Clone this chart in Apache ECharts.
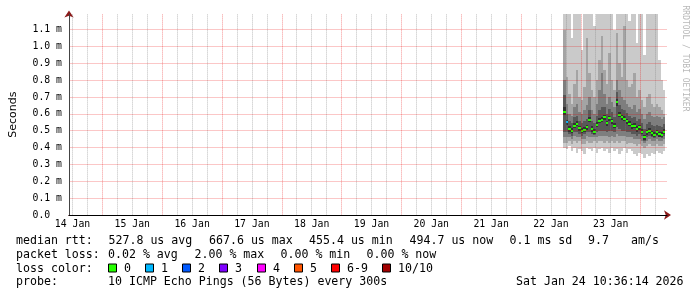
<!DOCTYPE html>
<html><head><meta charset="utf-8">
<script src="https://cdn.jsdelivr.net/npm/echarts@6/dist/echarts.min.js"></script>
<style>html,body{margin:0;padding:0;background:#fff}#c{width:697px;height:297px}</style>
</head><body><div id="c"></div>
<script>
// time axis in hours since 14 Jan 00:00; graph spans 14 Jan 10:36:14 .. 24 Jan 10:36:14
const X_MIN = 10.6039, X_MAX = 250.6039;
const Y_MAX = 1.19; // ms
const X_LABELS = ['14 Jan','15 Jan','16 Jan','17 Jan','18 Jan','19 Jan','20 Jan','21 Jan','22 Jan','23 Jan'];
const X_LABEL_HOURS = [12,36,60,84,108,132,156,180,204,228];
const MAJOR_HOURS = [24,48,72,96,120,144,168,192,216,240];
const MINOR_HOURS = [12,18,30,36,42,54,60,66,78,84,90,102,108,114,126,132,138,150,156,162,174,180,186,198,204,210,222,228,234,246];
const Y_TICKS = [0,0.1,0.2,0.3,0.4,0.5,0.6,0.7,0.8,0.9,1.0,1.1];

// hourly samples (end hour of each 1h step)
const HOURS = [210,211,212,213,214,215,216,217,218,219,220,221,222,223,224,225,226,227,228,229,230,231,232,233,234,235,236,237,238,239,240,241,242,243,244,245,246,247,248,249,250];
// sorted ping values (ms), ping1 (fastest) .. ping10 (slowest)
const P1 = [0.40,0.39,0.41,0.38,0.40,0.37,0.39,0.38,0.36,0.40,0.39,0.38,0.40,0.37,0.39,0.40,0.38,0.39,0.37,0.40,0.38,0.39,0.36,0.38,0.40,0.37,0.39,0.38,0.36,0.35,0.37,0.36,0.34,0.36,0.35,0.37,0.36,0.38,0.37,0.36,0.38];
const P2 = [0.43,0.43,0.44,0.42,0.44,0.43,0.44,0.42,0.42,0.44,0.43,0.43,0.44,0.43,0.44,0.44,0.43,0.44,0.43,0.44,0.43,0.44,0.43,0.44,0.44,0.42,0.43,0.43,0.42,0.41,0.42,0.41,0.40,0.41,0.42,0.41,0.41,0.42,0.41,0.41,0.42];
const P3 = [0.46,0.46,0.46,0.45,0.47,0.46,0.46,0.45,0.45,0.47,0.46,0.46,0.46,0.46,0.47,0.47,0.47,0.47,0.46,0.47,0.46,0.48,0.47,0.47,0.47,0.46,0.46,0.46,0.45,0.45,0.45,0.44,0.43,0.44,0.45,0.44,0.44,0.45,0.44,0.44,0.45];
const P4 = [0.49,0.49,0.48,0.47,0.49,0.49,0.48,0.47,0.48,0.49,0.49,0.48,0.475,0.49,0.50,0.50,0.50,0.49,0.50,0.50,0.49,0.52,0.51,0.50,0.50,0.49,0.49,0.48,0.48,0.47,0.48,0.47,0.44,0.465,0.47,0.46,0.455,0.47,0.46,0.455,0.47];
const P5 = [0.595,0.535,0.495,0.485,0.515,0.525,0.50,0.485,0.49,0.505,0.55,0.495,0.48,0.52,0.545,0.55,0.565,0.53,0.56,0.54,0.515,0.645,0.58,0.565,0.555,0.54,0.525,0.51,0.515,0.495,0.505,0.48,0.445,0.475,0.485,0.47,0.46,0.475,0.465,0.46,0.48];
const P6 = [0.64,0.565,0.525,0.515,0.545,0.555,0.53,0.515,0.52,0.535,0.58,0.525,0.51,0.55,0.575,0.58,0.595,0.56,0.59,0.57,0.545,0.69,0.61,0.595,0.585,0.57,0.555,0.54,0.545,0.525,0.535,0.51,0.475,0.505,0.515,0.50,0.49,0.505,0.495,0.49,0.51];
const P7 = [0.71,0.60,0.555,0.545,0.58,0.59,0.56,0.545,0.555,0.57,0.62,0.56,0.545,0.59,0.62,0.64,0.64,0.60,0.63,0.61,0.58,0.73,0.65,0.63,0.62,0.605,0.59,0.575,0.58,0.555,0.57,0.545,0.51,0.54,0.55,0.535,0.525,0.535,0.525,0.52,0.54];
const P8 = [0.80,0.66,0.60,0.59,0.64,0.66,0.61,0.60,0.62,0.65,0.70,0.62,0.60,0.66,0.74,0.84,0.72,0.66,0.70,0.67,0.64,0.80,0.74,0.70,0.68,0.66,0.64,0.63,0.65,0.61,0.63,0.60,0.57,0.60,0.61,0.59,0.58,0.59,0.58,0.57,0.58];
const P9 = [1.10,0.82,0.72,0.66,0.78,0.86,0.70,0.68,0.76,1.05,0.84,0.74,0.70,0.80,0.92,1.06,0.86,0.78,0.96,0.80,0.74,1.08,0.90,0.82,1.12,0.80,0.76,0.78,0.84,0.70,0.74,0.68,0.64,0.70,0.72,0.66,0.64,0.66,0.64,0.62,0.60];
const P10 = [1.25,1.25,1.25,1.05,1.25,1.25,1.25,0.98,1.25,1.25,1.25,1.25,1.12,1.25,1.25,1.25,1.25,1.25,1.25,1.25,1.10,1.25,1.25,1.25,1.25,1.25,1.15,1.25,1.25,1.02,1.25,1.25,0.95,1.25,1.25,1.25,1.25,1.25,0.92,0.80,0.74];
const MEDIAN = [0.61,0.55,0.51,0.50,0.53,0.54,0.515,0.50,0.505,0.52,0.565,0.51,0.495,0.535,0.56,0.565,0.58,0.545,0.575,0.555,0.53,0.668,0.595,0.58,0.57,0.555,0.54,0.525,0.53,0.51,0.52,0.495,0.46,0.49,0.50,0.485,0.475,0.49,0.48,0.475,0.495];
const LOSS = [0,1,0,0,0,0,0,0,0,0,0,0,0,0,0,0,0,0,0,0,0,0,0,0,0,0,0,0,0,0,0,0,0,0,0,0,0,0,0,0,0];

const SMOKE_COLORS = ['#cacaca','#a4a4a4','#7e7e7e','#585858','#323232'];
const LOSS_LABELS = ['0','1','2','3','4','5','6-9','10/10'];
const LOSS_COLORS = ['#26ff00','#00b8ff','#0059ff','#7e00ff','#ff00ff','#ff5500','#ff0000','#a10000'];

const RTT_STATS = ['median rtt:','527.8 us avg','667.6 us max','455.4 us min','494.7 us now','0.1 ms sd','9.7','am/s'];
const LOSS_STATS = ['packet loss:','0.02 % avg','2.00 % max','0.00 % min','0.00 % now'];
const PROBE = ['probe:','10 ICMP Echo Pings (56 Bytes) every 300s','Sat Jan 24 10:36:14 2026'];

const rows = HOURS.map((h, i) => [h, P1[i], P2[i], P3[i], P4[i], P5[i], P6[i], P7[i], P8[i], P9[i], P10[i], MEDIAN[i], LOSS[i]]);

const MONO = 'DejaVu Sans Mono';
const LEG_FS = 11.6;
function txt(x, y, s) {
  return {type:'text', x:x, y:y, style:{text:s, font: LEG_FS + 'px "' + MONO + '"', fill:'#000', textAlign:'left', textVerticalAlign:'middle'}};
}
const graphics = [];
const R1 = 241, R2 = 255, R3 = 268.5, R4 = 282;
const r1x = [16,108.5,209,309,409.5,509.5,588,631];
RTT_STATS.forEach((s, i) => graphics.push(txt(r1x[i], R1, s)));
const r2x = [16,108,194.5,280.5,366.5];
LOSS_STATS.forEach((s, i) => graphics.push(txt(r2x[i], R2, s)));
graphics.push(txt(16, R3, 'loss color:'));
const boxX = [108.5,145.5,182.5,219.5,257.5,294.5,331.5,382.5];
LOSS_LABELS.forEach((s, i) => {
  graphics.push({type:'rect', shape:{x:boxX[i], y:R3 - 4.5, width:8, height:8}, style:{fill:LOSS_COLORS[i], stroke:'#000', lineWidth:1}});
  graphics.push(txt(boxX[i] + 15.5, R3, s));
});
graphics.push(txt(16, R4, PROBE[0]));
graphics.push(txt(108, R4, PROBE[1]));
graphics.push(txt(516, R4, PROBE[2]));
graphics.push({type:'text', x:685.5, y:58.5, rotation:-Math.PI/2, style:{text:'RRDTOOL / TOBI OETIKER', font:'8px "' + MONO + '"', fill:'#b8b8b8', textAlign:'center', textVerticalAlign:'middle'}});

const MGRID = 'rgba(230,0,0,0.42)';
const MGRID_H = 'rgba(235,0,0,0.22)';
const GRID = 'rgba(128,128,128,0.5)';

const chart = echarts.init(document.getElementById('c'), null, {renderer:'canvas'});
chart.setOption({
  animation:false,
  backgroundColor:'#fff',
  textStyle:{fontFamily:MONO},
  grid:{left:67, right:30, top:14.4, bottom:82, containLabel:false},
  xAxis:[
    { type:'value', min:X_MIN, max:X_MAX, position:'bottom', z:6,
      axisLine:{show:true, onZero:false, lineStyle:{color:'#000', width:1}},
      axisTick:{show:false, customValues:MAJOR_HOURS},
      axisLabel:{show:true, customValues:X_LABEL_HOURS, margin:4, fontFamily:MONO, fontSize:9.8, color:'#000',
        formatter:(v) => X_LABELS[X_LABEL_HOURS.indexOf(Math.round(v))] || ''},
      splitLine:{show:true, lineStyle:{color:MGRID, type:[1,1], width:1}} },
    { type:'value', min:X_MIN, max:X_MAX, position:'bottom', z:5,
      axisLine:{show:false}, axisLabel:{show:false},
      axisTick:{show:false, customValues:MINOR_HOURS},
      splitLine:{show:true, lineStyle:{color:GRID, type:[1,1], width:1}} },
    { type:'value', min:X_MIN, max:X_MAX, position:'bottom', z:4,
      axisLine:{show:true, onZero:false, symbol:['none','arrow'], symbolSize:[7,7], symbolOffset:[0,4], lineStyle:{color:'#8b1a1a', width:1}},
      axisLabel:{show:false}, axisTick:{show:false}, splitLine:{show:false} }
  ],
  yAxis:[
    { type:'value', min:0, max:Y_MAX, position:'left', z:6,
      name:'Seconds', nameLocation:'middle', nameRotate:90, nameGap:50,
      nameTextStyle:{fontFamily:'DejaVu Sans', fontSize:11, color:'#000'},
      axisLine:{show:true, onZero:false, lineStyle:{color:'#444', width:1}},
      axisTick:{show:false, customValues:Y_TICKS},
      axisLabel:{show:true, customValues:Y_TICKS, margin:7, fontFamily:MONO, fontSize:9.8, color:'#000',
        formatter:(v) => v === 0 ? '0.0  ' : v.toFixed(1) + ' m'},
      splitLine:{show:true, lineStyle:{color:MGRID_H, type:'solid', width:1}} },
    { type:'value', min:0, max:Y_MAX, position:'left', z:4,
      axisLine:{show:true, onZero:false, symbol:['none','arrow'], symbolSize:[7,7], symbolOffset:[0,4], lineStyle:{color:'#8b1a1a', width:1}},
      axisLabel:{show:false}, axisTick:{show:false}, splitLine:{show:false} }
  ],
  series:[{
    type:'custom', xAxisIndex:0, yAxisIndex:0, z:2,
    encode:{x:0, y:[1,10]},
    data:rows,
    renderItem:function(params, api){
      const t = api.value(0);
      const kids = [];
      for (let b = 0; b < 5; b++) {
        const lo = api.value(1 + b), hi = Math.min(api.value(10 - b), Y_MAX);
        const a = api.coord([t - 1, hi]), c = api.coord([t, lo]);
        const x0 = Math.round(a[0]), x1 = Math.round(c[0]), y0 = Math.round(a[1]), y1 = Math.round(c[1]);
        kids.push({type:'rect', shape:{x:x0, y:y0, width:x1 - x0, height:y1 - y0}, style:{fill:SMOKE_COLORS[b]}});
      }
      const m0 = api.coord([t - 1, api.value(11)]), m1 = api.coord([t, api.value(11)]);
      const mx0 = Math.round(m0[0]), mx1 = Math.round(m1[0]), my = Math.round(m0[1]);
      kids.push({type:'rect', shape:{x:mx0, y:my - 1, width:mx1 - mx0, height:2}, style:{fill:LOSS_COLORS[api.value(12)]}});
      return {type:'group', children:kids};
    }
  }],
  graphic:graphics
});
</script></body></html>
